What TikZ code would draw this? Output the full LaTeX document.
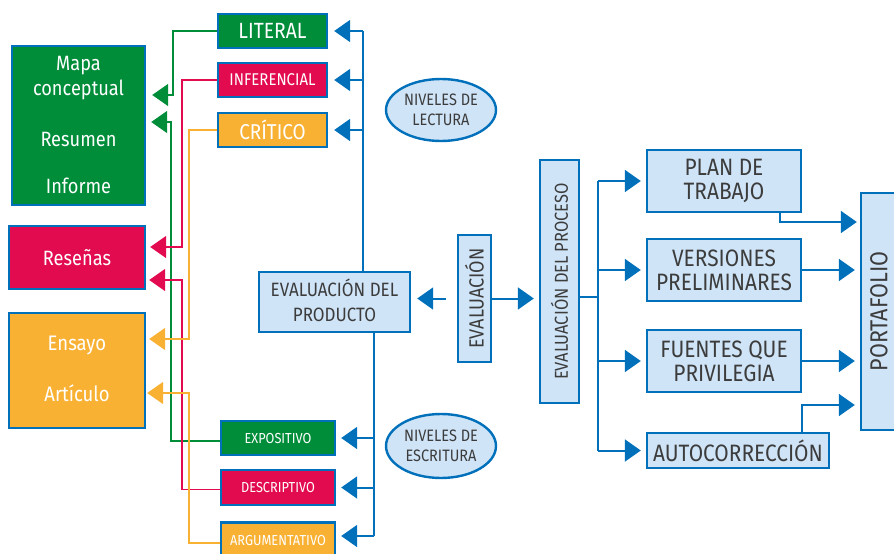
\documentclass[tikz,border=0pt]{standalone}
\usepackage{fontspec}
\setmainfont{Fira Sans}[FakeStretch=0.88]
\usetikzlibrary{arrows.meta,shapes.geometric}
\definecolor{blueC}{RGB}{0,112,186}
\definecolor{lightC}{RGB}{207,228,247}
\definecolor{greenC}{RGB}{0,141,57}
\definecolor{redC}{RGB}{227,11,79}
\definecolor{orangeC}{RGB}{248,177,51}
\definecolor{textC}{RGB}{60,60,60}
\tikzset{
  box/.style={draw=blueC, line width=2.4pt, inner sep=0pt, align=center},
  lightbox/.style={box, fill=lightC, text=textC},
  gbox/.style={box, fill=greenC, text=white},
  rbox/.style={box, fill=redC, text=white},
  obox/.style={box, fill=orangeC, text=white},
  oval/.style={ellipse, draw=blueC, line width=2.4pt, fill=lightC, text=textC,
    inner sep=0pt, align=center, font=\fontsize{16.5}{20}\selectfont},
  txt/.style={inner sep=0pt, text=white},
  tip/.style={-{Triangle[length=16pt,width=22pt]}},
  bline/.style={draw=blueC, line width=2pt},
  barrow/.style={bline, tip},
  gline/.style={draw=greenC, line width=1.6pt},
  rline/.style={draw=redC, line width=1.6pt},
  oline/.style={draw=orangeC, line width=1.6pt},
}
\begin{document}
\begin{tikzpicture}[x=1pt,y=-1pt]
\useasboundingbox (0,0) rectangle (894,554);

% product boxes on the left
\node[gbox, minimum width=133pt, minimum height=159pt] (gtask) at (78.5,125.5) {};
\node[txt, font=\fontsize{20.7}{22}\selectfont] (mapa) at (78.5,66) {Mapa};
\node[txt, font=\fontsize{20.7}{22}\selectfont] (concep) at (78.5,90) {conceptual};
\node[txt, font=\fontsize{20.7}{22}\selectfont] (resumen) at (78.5,139) {Resumen};
\node[txt, font=\fontsize{20.7}{22}\selectfont] (informe) at (78.5,186) {Informe};

\node[rbox, minimum width=136pt, minimum height=63pt, font=\fontsize{20.7}{22}\selectfont] (rtask) at (77,257.5) {Reseñas};

\node[obox, minimum width=136pt, minimum height=115pt] (otask) at (77,370.5) {};
\node[txt, font=\fontsize{21}{22}\selectfont] (ensayo) at (77,345) {Ensayo};
\node[txt, font=\fontsize{21}{22}\selectfont] (articulo) at (77,393) {Artículo};

% reading levels
\node[gbox, minimum width=109pt, minimum height=34pt, font=\fontsize{22}{24}\selectfont] (literal) at (272.5,31) {LITERAL};
\node[rbox, minimum width=109pt, minimum height=34pt, font=\fontsize{17}{19}\selectfont] (infer) at (272.5,80) {INFERENCIAL};
\node[obox, minimum width=109pt, minimum height=34pt, font=\fontsize{21.5}{23}\selectfont] (critico) at (272.5,130) {CRÍTICO};

% writing levels
\node[gbox, minimum width=114pt, minimum height=34pt, font=\fontsize{14.5}{16}\selectfont] (expo) at (278,438) {EXPOSITIVO};
\node[rbox, minimum width=114pt, minimum height=35pt, font=\fontsize{14.5}{16}\selectfont] (descr) at (278,487.5) {DESCRIPTIVO};
\node[obox, minimum width=114pt, minimum height=35pt, font=\fontsize{14.5}{16}\selectfont] (argu) at (278,540) {ARGUMENTATIVO};

% central boxes
\node[lightbox, minimum width=151pt, minimum height=60pt, font=\fontsize{19.3}{25}\selectfont] (product) at (334.5,302) {\raisebox{4pt}{EVALUACIÓN DEL}\\\raisebox{4pt}{PRODUCTO}};
\node[oval, minimum width=110pt, minimum height=62pt] (lectura) at (441,110) {NIVELES DE\\LECTURA};
\node[oval, minimum width=110pt, minimum height=64pt] (escritura) at (441,446) {NIVELES DE\\ESCRITURA};
\node[lightbox, minimum width=33pt, minimum height=127pt, font=\fontsize{20.5}{22}\selectfont] (eval) at (474.5,298.5) {\rotatebox{90}{EVALUACIÓN}};
\node[lightbox, minimum width=39pt, minimum height=243pt, font=\fontsize{18.7}{20}\selectfont] (proceso) at (559.5,281.5) {\rotatebox{90}{EVALUACIÓN DEL PROCESO}};

% process boxes
\node[lightbox, minimum width=154pt, minimum height=62pt, font=\fontsize{23.7}{24}\selectfont] (plan) at (724,181) {PLAN DE\\TRABAJO};
\node[lightbox, minimum width=154pt, minimum height=62pt, font=\fontsize{23.7}{24}\selectfont] (versiones) at (724,270) {VERSIONES\\PRELIMINARES};
\node[lightbox, minimum width=154pt, minimum height=62pt, font=\fontsize{23.7}{24}\selectfont] (fuentes) at (724,361) {FUENTES QUE\\PRIVILEGIA};
\node[lightbox, minimum width=182pt, minimum height=35pt, font=\fontsize{23.7}{24}\selectfont] (auto) at (738,450.5) {AUTOCORRECCIÓN};
\node[lightbox, minimum width=44pt, minimum height=237pt] (porta) at (883,311.5) {};
\node[inner sep=0pt, text=textC, font=\fontsize{24.5}{26}\selectfont, rotate=90] (portatext) at (879,311.5) {PORTAFOLIO};

% bus points
\coordinate (busR) at (363,31);
\coordinate (busW) at (374,536);
\coordinate (busP) at (598,297);
\coordinate (g1) at (173,95);
\coordinate (g2) at (171,122);
\coordinate (r1) at (182,247);
\coordinate (r2) at (182,280);
\coordinate (o1) at (189,339);
\coordinate (o2) at (189,393);
\coordinate (pb) at (780,222);
\coordinate (ab) at (802,405);

% blue connectors: reading branch
\draw[bline] (product.north -| busR) -- (busR);
\draw[barrow, shorten >=6pt] (busR) -- (literal.east);
\draw[barrow, shorten >=6pt] (busR |- infer) -- (infer.east);
\draw[barrow, shorten >=6pt] (busR |- critico) -- (critico.east);

% blue connectors: writing branch
\draw[bline] (product.south -| busW) -- (busW);
\draw[barrow, shorten >=5pt] (busW |- expo) -- (expo.east);
\draw[barrow, shorten >=5pt] (busW |- descr) -- (descr.east);
\draw[barrow, shorten >=5pt] (busW) -- (argu.east |- busW);

% evaluation
\draw[barrow, shorten <=11pt, shorten >=6pt] (eval.west) -- (product.east |- eval.west);
\draw[barrow, shorten >=5pt] (eval.east) -- (proceso.west |- eval.east);
\draw[bline] (proceso.east |- busP) -- (busP);
\draw[bline] (busP |- plan) -- (busP |- auto);
\draw[barrow, shorten >=5pt] (busP |- plan) -- (plan.west);
\draw[barrow, shorten >=5pt] (busP |- versiones) -- (versiones.west);
\draw[barrow, shorten >=5pt] (busP |- fuentes) -- (fuentes.west);
\draw[barrow, shorten >=5pt] (busP |- auto) -- (auto.west);

% into the portfolio
\draw[barrow, shorten >=3pt] (plan.south -| pb) |- (porta.west |- pb);
\draw[barrow, shorten >=5pt] (versiones.east) -- (porta.west |- versiones.east);
\draw[barrow, shorten >=5pt] (fuentes.east) -- (porta.west |- fuentes.east);
\draw[barrow, shorten >=5pt] (auto.north -| ab) |- (porta.west |- ab);

% coloured connectors to the task boxes
\draw[gline, tip, shorten >=6pt] (literal.west) -| (g1) -- (gtask.east |- g1);
\draw[gline, tip, shorten >=5pt] ([yshift=-3pt]expo.west) -| (g2) -- (gtask.east |- g2);
\draw[rline, tip, shorten >=4pt] (infer.west) -| (r1) -- (rtask.east |- r1);
\draw[rline, tip, shorten >=3pt] ([yshift=-2pt]descr.west) -| (r2) -- (rtask.east |- r2);
\draw[oline, tip, shorten >=3pt] (critico.west) -| (o1) -- (otask.east |- o1);
\draw[oline, tip, shorten >=1pt] ([yshift=-3pt]argu.west) -| (o2) -- (otask.east |- o2);
\end{tikzpicture}
\end{document}
